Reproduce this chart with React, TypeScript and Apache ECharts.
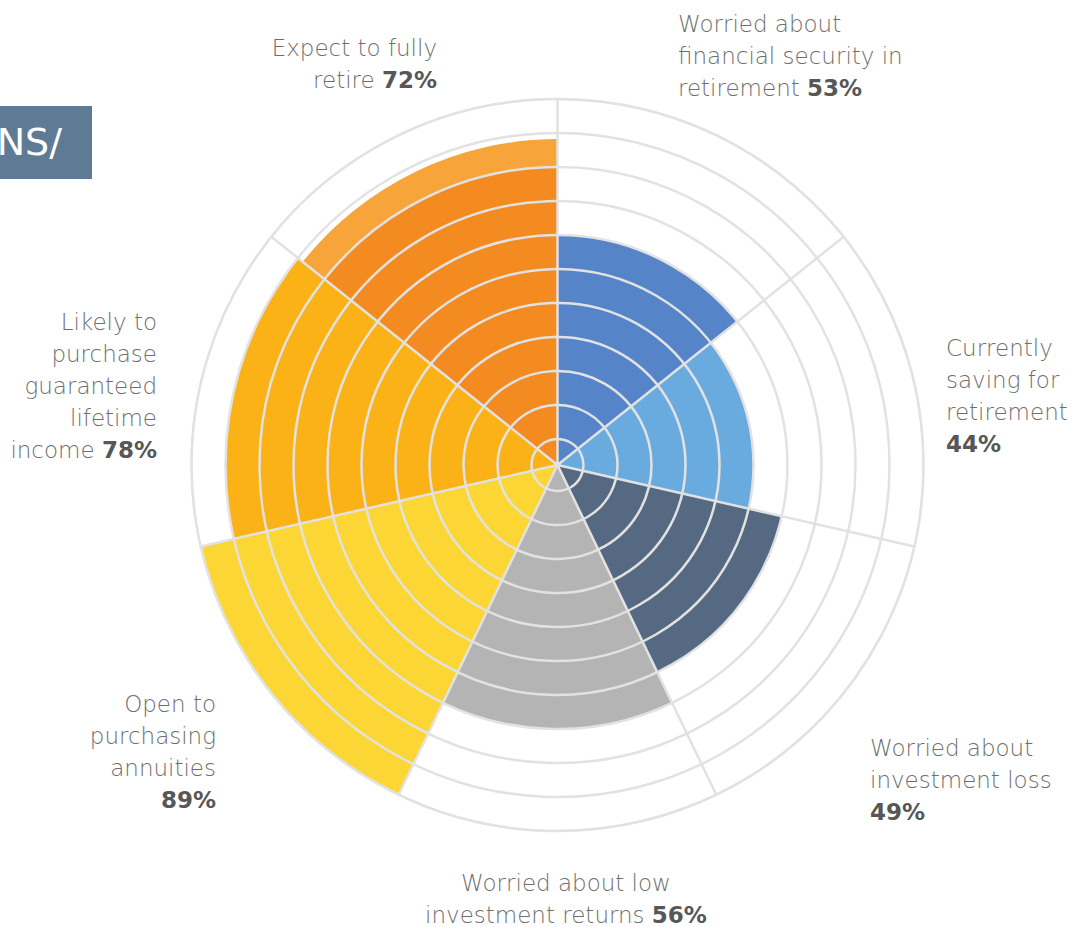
import React, { useEffect, useRef } from "react";
import * as echarts from "echarts";

// ---- data ----
const categories = [
  "Worried about financial security in retirement",
  "Currently saving for retirement",
  "Worried about investment loss",
  "Worried about low investment returns",
  "Open to purchasing annuities",
  "Likely to purchase guaranteed lifetime income",
  "Expect to fully retire",
];
const percents = [53, 44, 49, 56, 89, 78, 72];
// bar length, in full grid rings
const fullRings = [6, 5, 6, 7, 10, 9, 8];
// extra partial ring (lighter shade) on top of the bar
const partialRings = [0, 0, 0, 0, 0, 0, 0.82];
const labelLines = [
  ["Worried about", "financial security in", "retirement"],
  ["Currently", "saving for", "retirement", ""],
  ["Worried about", "investment loss", ""],
  ["Worried about low", "investment returns"],
  ["Open to", "purchasing", "annuities", ""],
  ["Likely to", "purchase", "guaranteed", "lifetime", "income"],
  ["Expect to fully", "retire"],
];
const colors = ["#5585C8", "#69AADF", "#556A82", "#B4B4B4", "#FBD635", "#FBB217", "#F48B20"];
const partialColors = ["#5585C8", "#69AADF", "#556A82", "#B4B4B4", "#FBD635", "#FBB217", "#F7A43A"];

// ---- layout ----
const CX = 557.5;
const CY = 465;
const R = 366;
const CORE = 26 / 34; // innermost ring is narrower than the others
const RINGS = 10;
const labelLayout = [
  { x: 678, y: 8, align: "left" },
  { x: 946, y: 332, align: "left" },
  { x: 870, y: 732, align: "left" },
  { x: 566, y: 863, align: "center" },
  { x: 216, y: 688, align: "right" },
  { x: 157, y: 306, align: "right" },
  { x: 437, y: 32, align: "right" },
];

const FONT = "'DejaVu Sans', 'Open Sans', sans-serif";
const GRID = "#E2E2E2";
const TEXT = "#6E6E6E";
const BOLD = "#575757";

function buildLabelText(i: number, lastTight: boolean): string {
  const lines = labelLines[i].slice();
  const last = lines.length - 1;
  return lines
    .map((l, k) => {
      if (k === last) {
        const nKey = lastTight ? "nt" : "n";
        const bKey = lastTight ? "bt" : "b";
        return (l ? `{${nKey}|${l} }` : "") + `{${bKey}|${percents[i]}%}`;
      }
      return lastTight ? `{nf|${l}}` : `{n|${l}}`;
    })
    .join("\n");
}

export default function App() {
  const ref = useRef<HTMLDivElement>(null);
  useEffect(() => {
    if (!ref.current) return;
    const chart = echarts.init(ref.current, undefined, { renderer: "svg" });
    const base = { fontSize: 23, fontFamily: FONT };
    const rich = {
      n: { ...base, fontWeight: 200, fill: TEXT, lineHeight: 32 },
      b: { ...base, fontWeight: "bold", fill: BOLD, lineHeight: 32 },
      // bottom label: first line taller, last line tight so the block stays on the page
      nf: { ...base, fontWeight: 200, fill: TEXT, lineHeight: 40 },
      nt: { ...base, fontWeight: 200, fill: TEXT, lineHeight: 24 },
      bt: { ...base, fontWeight: "bold", fill: BOLD, lineHeight: 24 },
    };
    const labels = labelLayout.map((p, i) => ({
      type: "text",
      x: p.x,
      y: p.y,
      z: 20,
      style: {
        text: buildLabelText(i, i === 3),
        rich,
        align: p.align,
        textAlign: p.align,
        verticalAlign: "top",
        textVerticalAlign: "top",
        fontFamily: FONT,
        fontSize: 23,
      },
    }));
    const option: any = {
      animation: false,
      backgroundColor: "#fff",
      polar: [
        { center: [CX, CY], radius: R },
        { center: [CX, CY], radius: R },
      ],
      angleAxis: [
        {
          polarIndex: 0,
          type: "category",
          data: categories,
          startAngle: 90,
          clockwise: true,
          axisLine: { show: false },
          axisTick: { show: false },
          axisLabel: { show: false },
          splitLine: { show: false },
        },
        {
          polarIndex: 1,
          type: "category",
          data: categories,
          startAngle: 90,
          clockwise: true,
          z: 10,
          axisLine: { show: true, lineStyle: { color: GRID, width: 2 } },
          axisTick: { show: false },
          axisLabel: { show: false },
          splitLine: { show: true, lineStyle: { color: GRID, width: 2.5 } },
        },
      ],
      radiusAxis: [
        {
          polarIndex: 0,
          type: "value",
          min: 0,
          max: CORE + RINGS,
          axisLine: { show: false },
          axisTick: { show: false },
          axisLabel: { show: false },
          splitLine: { show: false },
        },
        {
          polarIndex: 1,
          type: "value",
          min: -CORE,
          max: RINGS,
          splitNumber: 10,
          z: 10,
          axisLine: { show: false },
          axisTick: { show: false },
          axisLabel: { show: false },
          splitLine: { show: true, lineStyle: { color: GRID, width: 2.5 } },
        },
      ],
      series: [
        {
          type: "bar",
          coordinateSystem: "polar",
          polarIndex: 0,
          stack: "s",
          barCategoryGap: "0%",
          data: fullRings.map((v, i) => ({ value: CORE + v, itemStyle: { color: colors[i] } })),
        },
        {
          type: "bar",
          coordinateSystem: "polar",
          polarIndex: 0,
          stack: "s",
          barCategoryGap: "0%",
          data: partialRings.map((v, i) => ({ value: v, itemStyle: { color: partialColors[i] } })),
        },
      ],
      graphic: [
        {
          type: "rect",
          shape: { x: 0, y: 106, width: 92, height: 73 },
          style: { fill: "#5F7A94" },
          z: 20,
        },
        {
          type: "text",
          x: 62,
          y: 142,
          z: 21,
          style: {
            text: "NS/",
            fill: "#fff",
            fontSize: 38,
            fontWeight: "normal",
            fontFamily: FONT,
            align: "right",
            textAlign: "right",
            verticalAlign: "middle",
            textVerticalAlign: "middle",
          },
        },
        ...labels,
      ],
    };
    chart.setOption(option);
    return () => chart.dispose();
  }, []);
  return (
    <div
      ref={ref}
      style={{ position: "fixed", left: 0, top: 0, width: 1091, height: 927 }}
    />
  );
}
